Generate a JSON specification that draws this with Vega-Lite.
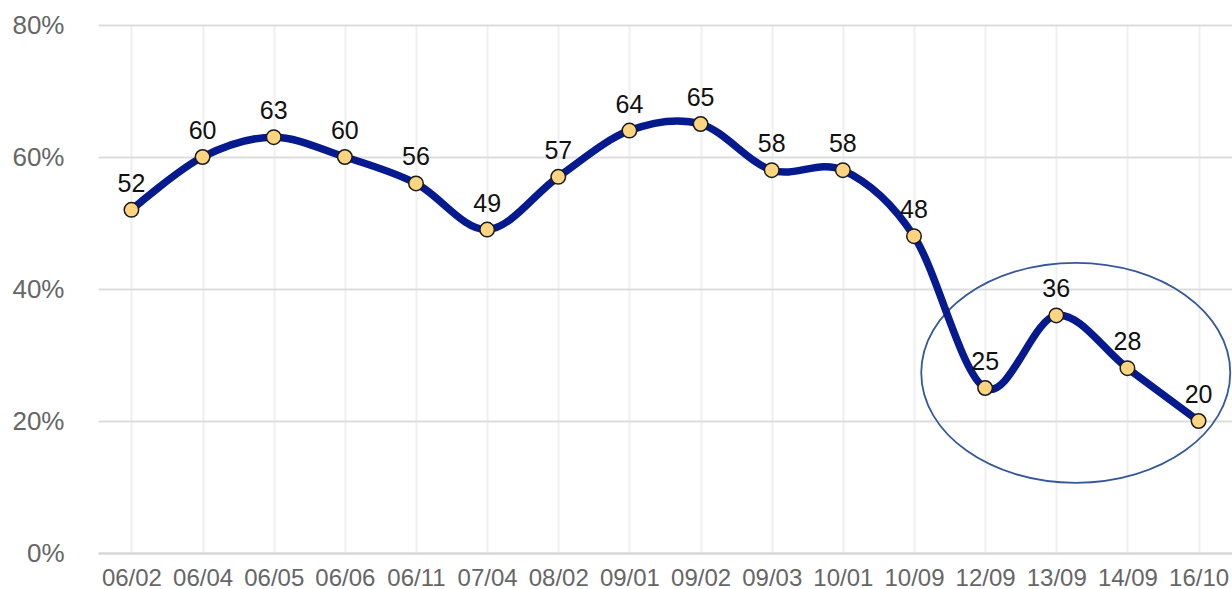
{
  "$schema": "https://vega.github.io/schema/vega-lite/v6.json",
  "width": 1134,
  "height": 528,
  "autosize": {"type": "none"},
  "padding": {"left": 98, "top": 25, "right": 0, "bottom": 36},
  "background": "#ffffff",
  "config": {
    "view": {"stroke": null},
    "font": "Liberation Sans"
  },
  "datasets": {
    "series": [
      {"date": "06/02", "value": 52},
      {"date": "06/04", "value": 60},
      {"date": "06/05", "value": 63},
      {"date": "06/06", "value": 60},
      {"date": "06/11", "value": 56},
      {"date": "07/04", "value": 49},
      {"date": "08/02", "value": 57},
      {"date": "09/01", "value": 64},
      {"date": "09/02", "value": 65},
      {"date": "09/03", "value": 58},
      {"date": "10/01", "value": 58},
      {"date": "10/09", "value": 48},
      {"date": "12/09", "value": 25},
      {"date": "13/09", "value": 36},
      {"date": "14/09", "value": 28},
      {"date": "16/10", "value": 20}
    ],
    "highlight": [
      {"date": "13/09", "value": 27.3}
    ]
  },
  "encoding": {
    "x": {
      "field": "date",
      "type": "ordinal",
      "sort": null,
      "scale": {
        "type": "point",
        "padding": 0.47,
        "domain": ["06/02", "06/04", "06/05", "06/06", "06/11", "07/04", "08/02", "09/01", "09/02", "09/03", "10/01", "10/09", "12/09", "13/09", "14/09", "16/10"]
      },
      "axis": {
        "title": null,
        "labelAngle": 0,
        "labelFontSize": 24,
        "labelColor": "#666666",
        "labelPadding": 13,
        "ticks": false,
        "domain": true,
        "domainColor": "#d6d6d6",
        "domainWidth": 2,
        "grid": true,
        "gridColor": "#efefef",
        "gridWidth": 2
      }
    },
    "y": {
      "field": "value",
      "type": "quantitative",
      "scale": {"domain": [0, 80], "nice": false},
      "axis": {
        "title": null,
        "values": [0, 20, 40, 60, 80],
        "labelExpr": "datum.value + '%'",
        "labelFontSize": 26,
        "labelColor": "#666666",
        "labelPadding": 34,
        "ticks": false,
        "domain": false,
        "grid": true,
        "gridColor": "#dddddd",
        "gridWidth": 2
      }
    }
  },
  "layer": [
    {
      "data": {"name": "highlight"},
      "mark": {
        "type": "point",
        "shape": "M -0.874 0 A 1 0.712 0 1 1 1.126 0 A 1 0.712 0 1 1 -0.874 0 Z",
        "size": 95481,
        "filled": false,
        "stroke": "#35589a",
        "strokeWidth": 1.8,
        "opacity": 1
      }
    },
    {
      "data": {"name": "series"},
      "mark": {
        "type": "line",
        "interpolate": "cardinal",
        "color": "#061a8f",
        "strokeWidth": 7.5
      }
    },
    {
      "data": {"name": "series"},
      "mark": {
        "type": "point",
        "filled": true,
        "fill": "#fdd480",
        "stroke": "#1a1a1a",
        "strokeWidth": 1.5,
        "size": 210,
        "opacity": 1
      }
    },
    {
      "data": {"name": "series"},
      "mark": {
        "type": "text",
        "baseline": "alphabetic",
        "dy": -18,
        "fontSize": 25,
        "color": "#111111"
      },
      "encoding": {
        "text": {"field": "value", "type": "quantitative"}
      }
    }
  ]
}
